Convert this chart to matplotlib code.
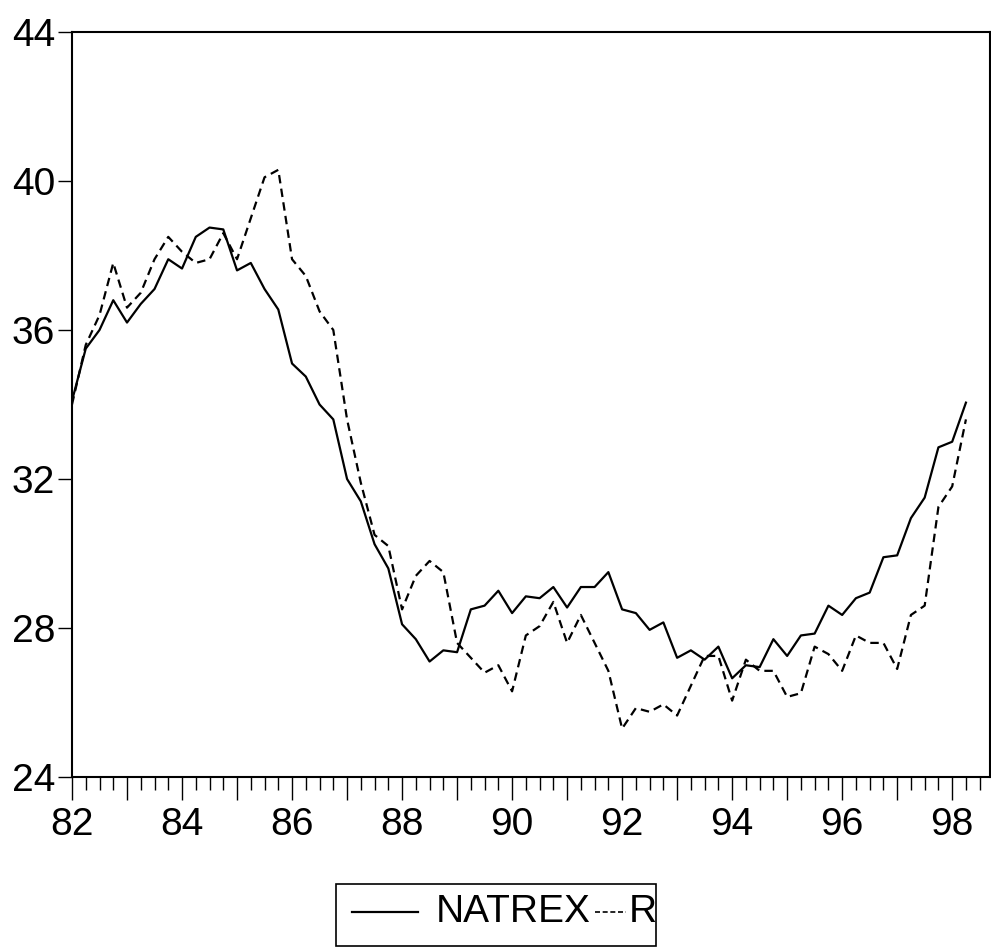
import numpy as np
import matplotlib.pyplot as plt
from matplotlib.lines import Line2D
from matplotlib.patches import Rectangle
from matplotlib.ticker import MultipleLocator, FuncFormatter

plt.rcParams['font.family'] = ['Liberation Sans', 'DejaVu Sans']

# quarterly observations, 1982Q1 - 1998Q2
start_year = 82
natrex = [34.1, 35.5, 36.0, 36.8, 36.2, 36.7, 37.1, 37.9, 37.65, 38.5,
          38.75, 38.7, 37.6, 37.8, 37.1, 36.55, 35.1, 34.75, 34.0, 33.6,
          32.0, 31.4, 30.25, 29.6, 28.1, 27.7, 27.1, 27.4, 27.35, 28.5,
          28.6, 29.0, 28.4, 28.85, 28.8, 29.1, 28.55, 29.1, 29.1, 29.5,
          28.5, 28.4, 27.95, 28.15, 27.2, 27.4, 27.15, 27.5, 26.65, 27.0,
          26.95, 27.7, 27.25, 27.8, 27.85, 28.6, 28.35, 28.8, 28.95, 29.9,
          29.95, 30.95, 31.5, 32.85, 33.0, 34.05]
r = [34.0, 35.6, 36.4, 37.8, 36.6, 37.0, 37.9, 38.5, 38.1, 37.8,
     37.9, 38.6, 37.9, 39.0, 40.1, 40.3, 37.9, 37.45, 36.5, 36.0,
     33.6, 31.9, 30.5, 30.2, 28.5, 29.4, 29.8, 29.5, 27.6, 27.2,
     26.8, 27.0, 26.3, 27.8, 28.05, 28.7, 27.6, 28.35, 27.6, 26.85,
     25.3, 25.85, 25.75, 25.95, 25.65, 26.45, 27.25, 27.25, 26.05, 27.15,
     26.85, 26.85, 26.15, 26.25, 27.5, 27.3, 26.85, 27.8, 27.6, 27.6,
     26.9, 28.35, 28.6, 31.25, 31.8, 33.6]
y_ticks = [24, 28, 32, 36, 40, 44]

W, H = 991, 949
t = np.arange(len(natrex))

fig = plt.figure(figsize=(W/100, H/100), dpi=100)
ax = fig.add_axes([72/W, 1-777/H, 918/W, (777-32)/H])

ax.plot(t, natrex, color='black', lw=1.6)
ax.plot(t, r, color='black', lw=1.6, linestyle=(0, (3.8, 2.4)))

ax.set_xlim(0, 66.75)
ax.set_ylim(24, 44)
ax.set_yticks(y_ticks)

# long tick each year, label every other year, short tick each quarter
ax.xaxis.set_major_locator(MultipleLocator(4))
ax.xaxis.set_minor_locator(MultipleLocator(1))
ax.xaxis.set_major_formatter(FuncFormatter(
    lambda v, p: '%d' % (start_year + int(v) // 4) if int(v) % 8 == 0 else ''))

ax.tick_params(axis='x', which='major', direction='out', length=16.5, width=1,
               pad=5, labelsize=28)
ax.tick_params(axis='x', which='minor', direction='out', length=9.5, width=1)
ax.tick_params(axis='y', which='major', direction='out', length=10, width=1,
               pad=2, labelsize=28)
for s in ax.spines.values():
    s.set_linewidth(1.5)

# key box under the plot, laid out in pixels
def fx(px):
    return px / W

def fy(py):
    return 1 - py / H

fig.patches.append(Rectangle((fx(336), fy(946)), fx(656) - fx(336), fy(884) - fy(946),
                             transform=fig.transFigure, fill=False,
                             edgecolor='black', lw=1.2))
key_y = fy(912)
fig.lines.append(Line2D([fx(352), fx(418)], [key_y, key_y], color='black', lw=1.6,
                        transform=fig.transFigure))
fig.text(fx(436), key_y, 'NATREX', fontsize=28, ha='left', va='center')
fig.lines.append(Line2D([fx(595), fx(626)], [key_y, key_y], color='black', lw=1.2,
                        linestyle=(0, (3, 1.6)), transform=fig.transFigure))
fig.text(fx(629), key_y, 'R', fontsize=28, ha='left', va='center')

plt.savefig('out.png', dpi=100)
